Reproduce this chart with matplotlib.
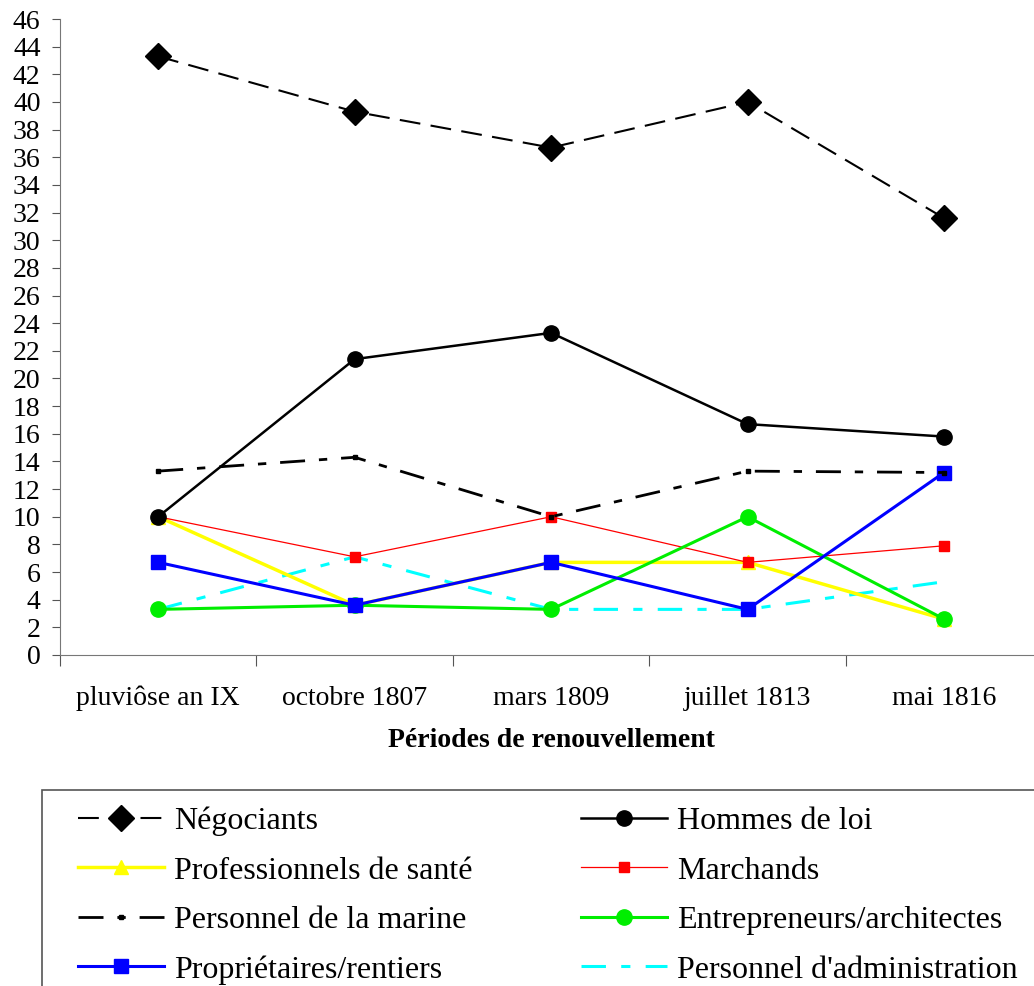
import matplotlib.pyplot as plt
from matplotlib.patches import Rectangle

plt.rcParams['font.family'] = ['Liberation Serif', 'DejaVu Serif']

periodes = ["pluviôse an IX", "octobre 1807", "mars 1809", "juillet 1813", "mai 1816"]

negociants = [43.3, 39.3, 36.7, 40.0, 31.6]
hommes_loi = [10.0, 21.4, 23.3, 16.7, 15.8]
sante = [10.0, 3.6, 6.7, 6.7, 2.6]
marchands = [10.0, 7.1, 10.0, 6.7, 7.9]
marine = [13.3, 14.3, 10.0, 13.3, 13.2]
entrepreneurs = [3.3, 3.6, 3.3, 10.0, 2.6]
proprietaires = [6.7, 3.6, 6.7, 3.3, 13.2]
administration = [3.3, 7.1, 3.3, 3.3, 5.3]

x = range(len(periodes))

fig = plt.figure(figsize=(10.34, 9.86), dpi=100)
ax = fig.add_axes([0.058, 0.3357, 0.95, 0.645])

# order drawn so the black/blue lines sit on top like the original
ax.plot(x, administration, color="cyan", lw=2.2, dashes=(8, 5, 3, 5),
        label="Personnel d'administration")
ax.plot(x, sante, color="yellow", lw=2.5, marker="^", ms=10,
        label="Professionnels de santé")
ax.plot(x, marchands, color="red", lw=0.9, marker="s", ms=7,
        label="Marchands")
ax.plot(x, entrepreneurs, color="#00ee00", lw=2.2, marker="o", ms=11,
        label="Entrepreneurs/architectes")
ax.plot(x, proprietaires, color="blue", lw=2.2, marker="s", ms=10,
        label="Propriétaires/rentiers")
ax.plot(x, marine, color="black", lw=2, dashes=(9, 5, 3, 5), marker="s", ms=3,
        label="Personnel de la marine")
ax.plot(x, hommes_loi, color="black", lw=1.8, marker="o", ms=11,
        label="Hommes de loi")
ax.plot(x, negociants, color="black", lw=1.5, dashes=(10, 5), marker="D", ms=13,
        label="Négociants")

ax.set_xlim(-0.5, 4.5)
ax.set_ylim(0, 46)
ax.set_yticks(range(0, 47, 2))
ax.set_xticks([i + 0.5 for i in range(-1, 4)])
ax.set_xticklabels([])
ax.set_xticks(list(x), minor=True)
ax.set_xticklabels(periodes, minor=True)
ax.tick_params(axis="x", which="minor", length=0, pad=22, labelsize=20)
ax.tick_params(axis="x", which="major", length=8, color="#555555")
ax.tick_params(axis="y", length=6, color="#555555", labelsize=20, pad=8)

for s in ["top", "right"]:
    ax.spines[s].set_visible(False)
for s in ["left", "bottom"]:
    ax.spines[s].set_color("#777777")

ax.set_xlabel("Périodes de renouvellement", fontsize=20, fontweight="bold", labelpad=12)

handles, labels = ax.get_legend_handles_labels()
order = ["Négociants", "Hommes de loi", "Professionnels de santé", "Marchands",
         "Personnel de la marine", "Entrepreneurs/architectes",
         "Propriétaires/rentiers", "Personnel d'administration"]
lookup = dict(zip(labels, handles))
# legend fills column-wise, so reorder for the row layout
leg_labels = order[0::2] + order[1::2]
fig.legend([lookup[l] for l in leg_labels], leg_labels, ncol=2,
           loc="upper left", bbox_to_anchor=(0.0754, 0.182),
           fontsize=23, frameon=False, handlelength=2.7, handletextpad=0.3,
           labelspacing=0.63, borderpad=0, columnspacing=3.4,
           borderaxespad=0)

# legend box runs off the right and bottom edges in the original
fig.patches.append(Rectangle((0.041, -0.05), 1.0, 0.249, transform=fig.transFigure,
                             fill=False, edgecolor="#555555", lw=1.2))

fig.savefig("out.png", dpi=100)
